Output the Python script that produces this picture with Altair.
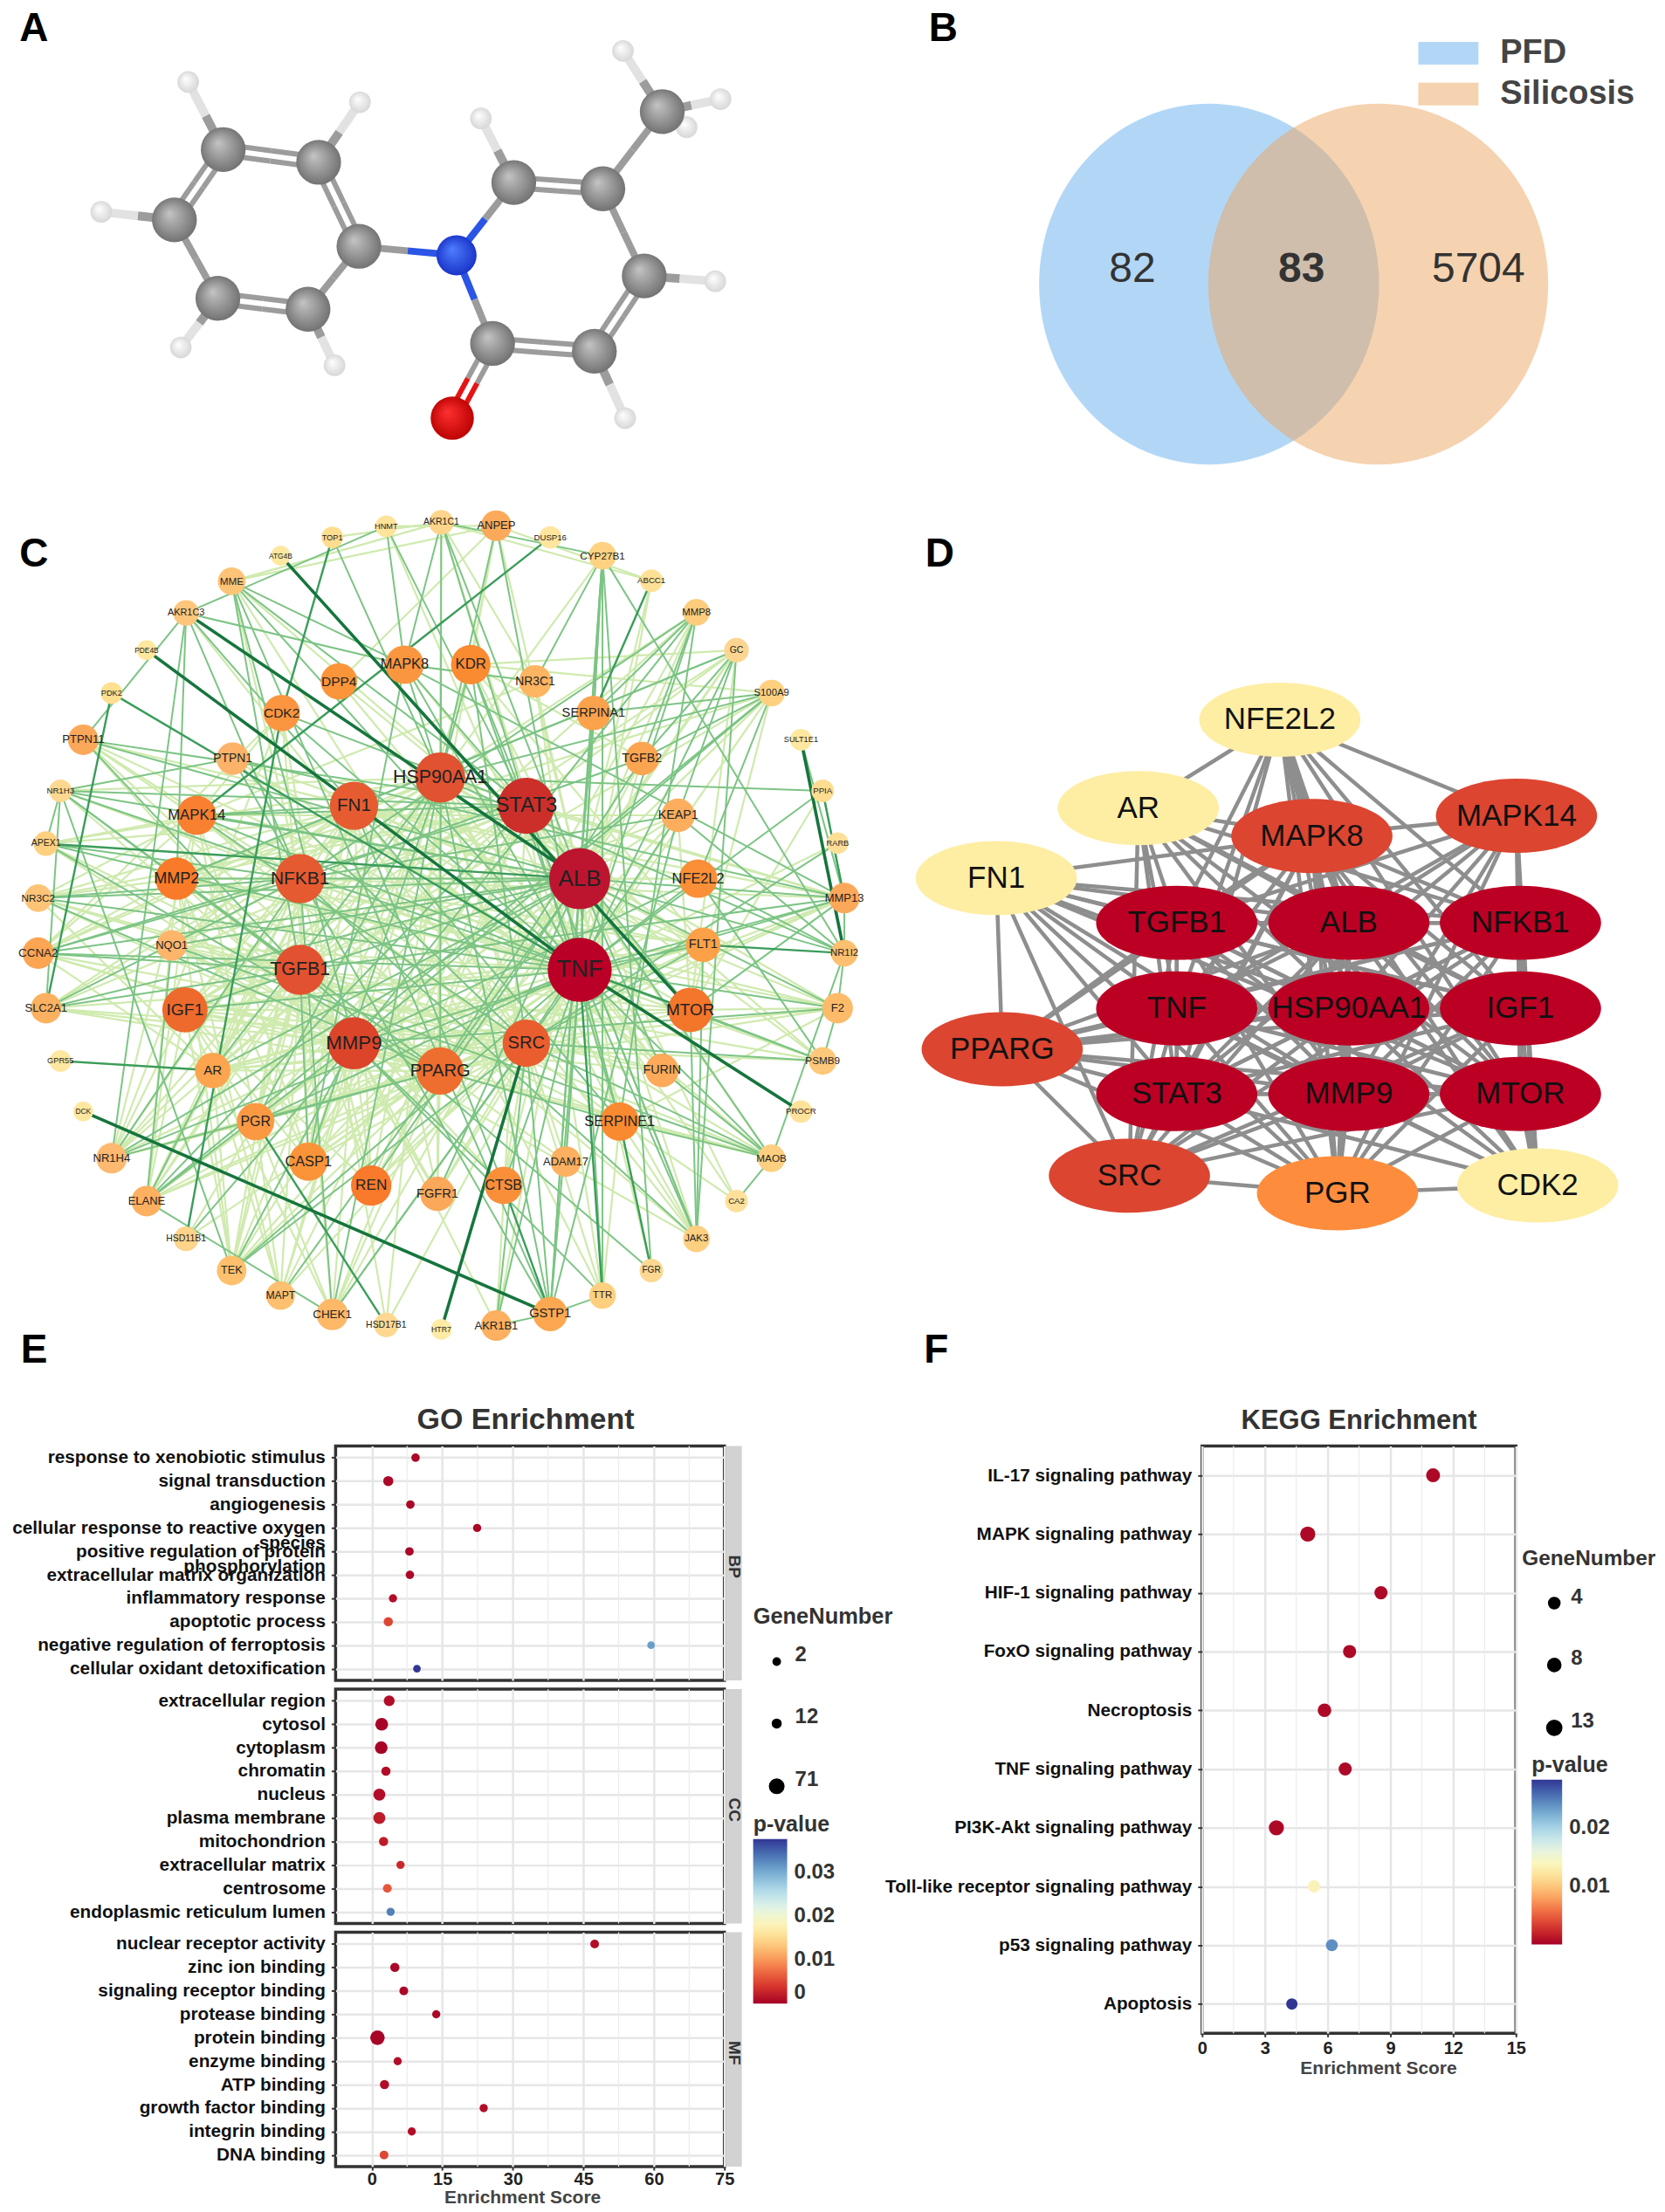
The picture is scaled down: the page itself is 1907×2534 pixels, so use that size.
import itertools, math
import altair as alt
import pandas as pd

FONT = "Liberation Sans"

# ---------- Panel A: molecule (zoom-read coordinates: x/0.822, y/2.8)
atoms = {
 "C1":("C",208,472),"C2":("C",298,513),"C3":("C",162,698),"C4":("C",336,783),"C5":("C",203,950),
 "C6":("C",288,985),"N":("N",428,812),"C7":("C",482,578),"C8":("C",566,598),"C9":("C",605,878),
 "C10":("C",558,1120),"C11":("C",462,1095),"O":("O",424,1335),"C12":("C",622,350),
 "H1":("H",175,255),"H2":("H",337,320),"H3":("H",93,672),"H4":("H",168,1108),"H5":("H",313,1165),
 "H6":("H",451,372),"H7":("H",585,155),"H8":("H",677,310),"H9":("H",645,400),"H10":("H",672,895),"H11":("H",587,1335),
}
bonds = [("C1","C2",2),("C2","C4",2),("C4","C6",1),("C6","C5",2),("C5","C3",1),("C3","C1",2),
 ("C4","N",1),("N","C7",1),("N","C11",1),("C7","C8",2),("C8","C9",1),("C9","C10",2),("C10","C11",2),
 ("C11","O",2),("C8","C12",1),("C1","H1",1),("C2","H2",1),("C3","H3",1),("C5","H4",1),("C6","H5",1),
 ("C7","H6",1),("C12","H7",1),("C12","H8",1),("C12","H9",1),("C9","H10",1),("C10","H11",1)]
atom_sizes = {"C":58,"N":52,"O":56,"H":28}
atom_stops = {"C":("#c4c4c4","#6c6c6c"),"N":("#4f7dff","#1630c4"),"O":("#ff3030","#b80000"),"H":("#ffffff","#d4d4d4")}
bond_colors = {"C":"#9c9c9c","N":"#2b55e4","O":"#e51515","H":"#e2e2e2"}

apos = {k:(v[1]/0.822, v[2]/2.8) for k,v in atoms.items()}
atom_df = pd.DataFrame([{"x":apos[k][0],"y":apos[k][1],"kind":v[0],"area":atom_sizes[v[0]]**2*math.pi/4} for k,v in atoms.items()])
rows=[]
for a,b,order in bonds:
    (x1,y1),(x2,y2)=apos[a],apos[b]
    L=math.hypot(x2-x1,y2-y1); nx,ny=-(y2-y1)/L,(x2-x1)/L
    offs=[-6,6] if order==2 else [0]
    w=6 if order==2 else (10 if "H" in (atoms[a][0],atoms[b][0]) else 8)
    for o in offs:
        ax,ay,bx,by=x1+nx*o,y1+ny*o,x2+nx*o,y2+ny*o
        mx,my=(ax+bx)/2,(ay+by)/2
        rows.append({"x":ax,"y":ay,"x2":mx,"y2":my,"c":bond_colors[atoms[a][0]],"w":w})
        rows.append({"x":mx,"y":my,"x2":bx,"y2":by,"c":bond_colors[atoms[b][0]],"w":w})
bond_df=pd.DataFrame(rows)

# ---------- Panel B: Venn
venn_sets = ["PFD","Silicosis"]
venn_x = [1384, 1578]
venn_y = [323, 323]
venn_colors = ["#b2d7f6","#eba561"]
venn_op = [1.0,0.5]
venn_counts = ["82","83","5704"]
venn_count_x = [1296,1490,1693]
venn_count_w = ["normal","bold","normal"]
swatch_y = [(45,71),(92,118)]
swatch_c = ["#b2d7f6","#f5d2b0"]

# ---------- Panel C: network (zoom-read coordinates: x/1.568, 560+y/1.568)
c_nodes = [
("ANPEP",888,63,62,"#fba95a"),("AKR1C1",789,57,50,"#fed58a"),("HNMT",690,64,44,"#fee39b"),("TOP1",593,84,44,"#fedd90"),
("ATG4B",500,117,40,"#fee79f"),("MME",412,163,56,"#fdc478"),("AKR1C3",330,220,52,"#fdc67c"),("PDE4B",259,287,40,"#fee79f"),
("PDK2",196,364,44,"#fee090"),("PTPN11",145,448,62,"#fca85a"),("NR1H3",104,540,46,"#fed890"),("APEX1",78,635,50,"#fed07f"),
("NR3C2",64,733,56,"#fdc478"),("CCNA2",64,832,64,"#fca552"),("SLC2A1",78,931,62,"#fcb160"),("GPR55",104,1026,44,"#fee79f"),
("DCK",145,1117,40,"#fee89f"),("NR1H4",196,1201,62,"#fdb970"),("ELANE",259,1278,62,"#fcb060"),("HSD11B1",330,1346,50,"#fed48a"),
("TEK",412,1403,60,"#fdc06c"),("MAPT",500,1448,58,"#fdc070"),("CHEK1",593,1482,64,"#fdb868"),("HSD17B1",690,1501,50,"#fed890"),
("HTR7",789,1509,42,"#feeba5"),("AKR1B1",888,1502,62,"#fcb060"),("GSTP1",985,1481,70,"#fca850"),("TTR",1079,1448,54,"#fdd080"),
("FGR",1167,1403,48,"#fed790"),("JAK3",1248,1346,54,"#fdcf80"),("CA2",1320,1278,46,"#fee09a"),("MAOB",1383,1201,56,"#fdcf80"),
("PROCR",1436,1117,46,"#fee29a"),("PSMB9",1475,1026,56,"#fdc87a"),("F2",1502,931,62,"#fdbb6a"),("NR1I2",1514,832,54,"#fdc070"),
("MMP13",1514,733,62,"#fca85a"),("RARB",1502,634,44,"#fedf97"),("PPIA",1475,540,46,"#fedd90"),("SULT1E1",1436,448,44,"#fee89f"),
("S100A9",1383,364,54,"#fed080"),("GC",1320,287,50,"#fed590"),("MMP8",1248,219,54,"#fdcc7c"),("ABCC1",1167,162,46,"#fee096"),
("CYP27B1",1079,117,56,"#fed282"),("DUSP16",985,84,46,"#fee69e"),
("SERPINA1",1063,400,70,"#fba24d"),("NR3C1",958,343,66,"#fdb562"),("KDR",842,313,80,"#fb8b30"),("MAPK8",723,313,78,"#fb9640"),
("DPP4",605,343,74,"#fb953a"),("CDK2",502,400,74,"#fb953f"),("PTPN1",414,482,66,"#fcb369"),("MAPK14",349,584,80,"#f88030"),
("MMP2",313,698,86,"#f97a28"),("NQO1",304,818,62,"#fdb56c"),("IGF1",328,934,92,"#ed6a2c"),("AR",378,1043,72,"#fca54e"),
("PGR",455,1135,76,"#fb9943"),("CASP1",550,1207,78,"#fb9438"),("REN",663,1250,82,"#f97a2b"),("FGFR1",782,1265,70,"#fca85a"),
("CTSB",901,1250,76,"#fa8f3a"),("ADAM17",1013,1207,62,"#fcb060"),("SERPINE1",1110,1135,78,"#fa8a30"),("FURIN",1186,1043,68,"#fdaa5a"),
("MTOR",1237,934,90,"#f4762a"),("FLT1",1260,817,70,"#fca148"),("NFE2L2",1251,698,78,"#fa8f38"),("KEAP1",1215,584,68,"#fcae5e"),
("TGFB2",1150,482,68,"#fca550"),
("HSP90AA1",787,516,102,"#e05230"),("STAT3",942,567,114,"#cc2f2a"),("ALB",1038,698,124,"#bd1530"),("TNF",1038,862,130,"#ba0026"),
("SRC",942,994,96,"#ea5d2e"),("PPARG",787,1044,96,"#ee6e2f"),("MMP9",632,994,106,"#dc452a"),("TGFB1",535,862,102,"#e35230"),
("NFKB1",535,698,100,"#e55a30"),("FN1",632,567,98,"#e65c30"),
]
c_dark = ["PDE4B-TNF","AKR1C3-ALB","ATG4B-MTOR","DCK-GSTP1","PROCR-TNF","HTR7-SRC","SULT1E1-NR1I2"]
c_medium = ["PDK2-TNF","DUSP16-MAPK14","TOP1-CDK2","ABCC1-SERPINA1","GPR55-AR","PDK2-SLC2A1","NR1I2-FLT1","PPIA-MMP13",
            "APEX1-ALB","HSD11B1-CDK2","HSD17B1-PGR","GSTP1-CTSB","FGR-SERPINE1","TTR-TNF","TNF-MTOR"]
c_mid = {
"TNF":"MME NR1H3 APEX1 NR3C2 CCNA2 NR1H4 TEK CHEK1 AKR1B1 GSTP1 JAK3 MAOB PSMB9 F2 MMP13 PPIA GC MMP8 CYP27B1 ANPEP SERPINA1 KDR MAPK8 CDK2 MAPK14 IGF1 PGR CTSB ADAM17 SERPINE1 FLT1 NFE2L2",
"ALB":"PTPN11 NR1H3 NR3C2 CCNA2 SLC2A1 NR1H4 MAPT GSTP1 TTR MAOB F2 NR1I2 MMP13 CYP27B1 AKR1C1 SERPINA1 MAPK14 MMP2 NQO1 IGF1 AR REN FGFR1 FURIN",
"STAT3":"MME PTPN11 NR1H3 CCNA2 ELANE JAK3 AKR1C1 HNMT MAPK8 CDK2 MAPK14 SERPINE1 MTOR",
"HSP90AA1":"ANPEP TOP1 NR1I2 PPIA S100A9 MAPK8 KDR CHEK1 AR PGR CASP1 GSTP1",
"SRC":"TEK CHEK1 GSTP1 AKR1B1 MAOB PSMB9 RARB KEAP1 FLT1 KDR MAPK14 PTPN1",
"PPARG":"NR1H3 NR1H4 NR3C2 APEX1 TGFB2 AKR1C1 SERPINE1 PGR",
"MMP9":"ELANE MME MMP13 MMP8 S100A9 F2 NFE2L2 HSD11B1 TEK TTR CTSB",
"TGFB1":"NR1H3 PTPN11 MME CCNA2 SLC2A1 FGR MMP13 CASP1",
"NFKB1":"APEX1 NR3C2 NR1H4 SLC2A1 CCNA2 CHEK1 AKR1C3 MMP8 JAK3 TGFB2 KEAP1",
"FN1":"MAPK14 MMP2 SERPINE1 CTSB GC AKR1C3",
"GSTP1":"AKR1B1 KEAP1 CYP27B1 TTR PTPN1 MME",
"MAPK8":"AKR1C1 MME HNMT CASP1 NR3C1 MMP13",
"MMP13":"NR1I2 PPIA MTOR SULT1E1 PTPN1",
"NR1I2":"KEAP1 F2 MAOB NFE2L2 CYP27B1",
"MAOB":"SERPINE1 FURIN CA2 NQO1",
"JAK3":"MTOR FLT1 KDR GC",
"CYP27B1":"SERPINA1 AKR1C1 NR3C1 FGR TTR",
"AKR1C3":"NR1H4 MMP2 HNMT MAPK8 PTPN11",
"NR1H3":"PTPN1 APEX1 SLC2A1 TEK",
"MMP8":"TGFB2 SERPINE1 SERPINA1",
"ELANE":"NQO1 AR CHEK1 S100A9",
"S100A9":"NFE2L2 TGFB2 SERPINA1",
"GC":"TGFB2 KEAP1 MMP2",
"PSMB9":"NFE2L2 MTOR F2",
}
c_light = {
"TNF":"PTPN11 SLC2A1 ELANE HSD11B1 MAPT HSD17B1 FGR CA2 RARB S100A9 ABCC1 AKR1C1 HNMT NR3C1 DPP4 PTPN1 MMP2 NQO1 AR CASP1 REN FGFR1 FURIN KEAP1 TGFB2",
"ALB":"MME TEK CHEK1 ELANE AKR1B1 JAK3 CA2 PSMB9 S100A9 GC MMP8 ABCC1 ANPEP KDR DPP4 PTPN1 PGR CASP1 CTSB ADAM17 SERPINE1 MTOR FLT1 KEAP1 TGFB2 NR3C1",
"STAT3":"APEX1 NR3C2 SLC2A1 NR1H4 TEK MAPT CHEK1 AKR1B1 TTR MAOB PSMB9 MMP13 IGF1 MMP2 PGR CASP1 REN NQO1 AR FURIN",
"HSP90AA1":"NR1H3 APEX1 CCNA2 SLC2A1 NR1H4 ELANE TEK MAPT HSD17B1 TTR JAK3 F2 MMP13 CYP27B1 MMP8 IGF1 MMP2 NQO1 FGFR1 ADAM17 SERPINE1 FURIN FLT1",
"SRC":"PTPN11 NR3C2 CCNA2 SLC2A1 NR1H4 ELANE MME AKR1C3 MMP2 IGF1 NQO1 AR PGR CASP1 REN FGFR1 CTSB FURIN MMP13",
"PPARG":"PTPN11 CCNA2 SLC2A1 ELANE TEK CHEK1 MAOB F2 MMP13 GC MMP8 MMP2 IGF1 NQO1 AR CASP1 REN FGFR1 MTOR FLT1 KEAP1",
"MMP9":"PTPN11 NR1H3 APEX1 NR3C2 CCNA2 SLC2A1 NR1H4 MAPT CHEK1 AKR1B1 JAK3 MAOB PSMB9 NQO1 MMP2 IGF1 AR PGR CASP1 REN FGFR1 FURIN MTOR FLT1",
"TGFB1":"APEX1 NR3C2 NR1H4 ELANE TEK MAPT MAOB PSMB9 S100A9 GC MMP8 MMP2 IGF1 NQO1 AR PGR REN FGFR1 CTSB ADAM17 SERPINE1 FURIN MTOR",
"NFKB1":"NR1H3 PTPN11 ELANE TEK MAOB PSMB9 MMP13 F2 MME MMP2 IGF1 NQO1 AR PGR CASP1 REN SERPINE1 MTOR FLT1 NFE2L2",
"FN1":"PTPN11 NR3C2 CCNA2 SLC2A1 NR1H4 ELANE TEK TTR JAK3 MAOB MMP13 F2 IGF1 NQO1 AR PGR CASP1 REN FGFR1 FURIN MTOR FLT1 NFE2L2",
"IGF1":"AR PGR CASP1 REN ELANE TEK NR1H4 GC KEAP1 MTOR FLT1",
"MAPK14":"NR3C2 APEX1 CCNA2 NR1H4 ELANE KEAP1 NR3C1 PGR CASP1 JAK3",
"MMP2":"NR3C2 CCNA2 ELANE MAPT TEK S100A9 CASP1 FLT1 F2",
"AR":"NR3C2 CCNA2 ELANE CHEK1 TEK MAPT GPR55 F2 FLT1",
"CDK2":"CCNA2 CHEK1 HSD17B1 MAPK14 NR1H4",
"PGR":"NR1H4 ELANE HSD11B1 MAPT CHEK1 MMP13",
"ANPEP":"DPP4 KDR MME ABCC1 REN HNMT",
"AKR1C1":"TOP1 MME FGFR1 NR3C1 ABCC1",
"MTOR":"PPIA S100A9 GC F2 MAPK8 KEAP1",
"KDR":"FLT1 GC S100A9 TGFB2 CASP1",
"SERPINE1":"F2 TTR FGR JAK3 CA2 MAOB",
}
node_xy = {n[0]:(n[1]/1.568, 560+n[2]/1.568) for n in c_nodes}
def edge_rows(pairs,c,w):
    out=[]
    for a,b in pairs:
        out.append({"x":node_xy[a][0],"y":node_xy[a][1],"x2":node_xy[b][0],"y2":node_xy[b][1],"c":c,"w":w})
    return out
def adj(d):
    return [(k,t) for k,v in d.items() for t in v.split()]
c_edge_df = pd.DataFrame(
    edge_rows(adj(c_light),"#cfeaae",2.2)+edge_rows(adj(c_mid),"#7cc484",2.0)
    +edge_rows([tuple(p.split("-")) for p in c_medium],"#3a9c5a",2.4)
    +edge_rows([tuple(p.split("-")) for p in c_dark],"#16753d",3.6))
c_node_df = pd.DataFrame([{"x":n[1]/1.568,"y":560+n[2]/1.568,"label":n[0],"c":n[4],
                           "area":(n[3]/1.568)**2*math.pi/4,"fs":max(7.5,n[3]*0.21)} for n in c_nodes])

# ---------- Panel D: hub network (zoom-read coordinates: 1020+x/1.768, 750+y/2.24)
d_nodes = [("NFE2L2",787,163,"#feeea3"),("AR",500,390,"#feeea3"),("MAPK8",852,462,"#dc4530"),("MAPK14",1267,410,"#dc4530"),
("FN1",212,570,"#feeea3"),("TGFB1",578,685,"#bc0024"),("ALB",927,685,"#bc0024"),("NFKB1",1275,685,"#bc0024"),
("TNF",578,905,"#bc0024"),("HSP90AA1",927,905,"#bc0024"),("IGF1",1275,905,"#bc0024"),("PPARG",224,1010,"#dc4530"),
("STAT3",578,1125,"#bc0024"),("MMP9",927,1125,"#bc0024"),("MTOR",1275,1125,"#bc0024"),("SRC",482,1335,"#dc4530"),
("PGR",904,1380,"#fd8d3c"),("CDK2",1310,1360,"#feeea3")]
d_absent = {("AR","FN1"),("NFE2L2","FN1"),("FN1","CDK2"),("AR","CDK2"),("AR","PPARG"),("MAPK14","PPARG"),("MAPK14","SRC"),
            ("SRC","CDK2"),("NFE2L2","CDK2"),("NFE2L2","PPARG"),("NFE2L2","SRC"),("AR","PGR"),("PPARG","CDK2"),("AR","MAPK14"),
            ("FN1","MAPK14")}
d_thick = {("NFE2L2","MAPK8"):9,("IGF1","MTOR"):6.5,("MTOR","CDK2"):7,("NFE2L2","ALB"):6,("PPARG","TNF"):6,("PPARG","HSP90AA1"):6,("TNF","MMP9"):6}
d_xy = {n[0]:(1020+n[1]/1.768,750+n[2]/2.24) for n in d_nodes}
rows=[]
for (a,b) in itertools.combinations([n[0] for n in d_nodes],2):
    if (a,b) in d_absent or (b,a) in d_absent: continue
    rows.append({"x":d_xy[a][0],"y":d_xy[a][1],"x2":d_xy[b][0],"y2":d_xy[b][1],"c":"#8e8e8e","w":d_thick.get((a,b),d_thick.get((b,a),4.5))})
d_edge_df=pd.DataFrame(rows)
d_node_df=pd.DataFrame([{"x":d_xy[n[0]][0],"y":d_xy[n[0]][1],"label":n[0],"c":n[3]} for n in d_nodes])
ELLIPSE_D="M-1,0A1,0.46,0,1,1,1,0A1,0.46,0,1,1,-1,0Z"
ELLIPSE_B="M-0.942,0A0.942,1,0,1,1,0.942,0A0.942,1,0,1,1,-0.942,0Z"

# ---------- Panel letters
letters_top=["A","B"]
letter_top_x=[36,1079]
letter_top_y=[8,8]
letters=["C","D","E","F"]
letter_x=[36,1075,36,1071]
letter_y=[633,633,1546,1546]

# ---------- Canvas helpers
sx=alt.Scale(domain=[8,1899],nice=False,zero=False)
sy=alt.Scale(domain=[1656,8],nice=False,zero=False)
X=lambda f="x":alt.X(f"{f}:Q",scale=sx,axis=None)
Y=lambda f="y":alt.Y(f"{f}:Q",scale=sy,axis=None)
def rules(df):
    return alt.Chart(df).mark_rule().encode(x=X(),y=Y(),x2="x2:Q",y2="y2:Q",
        color=alt.Color("c:N",scale=None),size=alt.Size("w:Q",scale=None))
def ball(kind):
    a,b=atom_stops[kind]
    g=alt.RadialGradient(gradient="radial",x1=0.38,y1=0.35,x2=0.5,y2=0.5,r1=0,r2=0.55,
        stops=[alt.GradientStop(offset=0,color=a),alt.GradientStop(offset=1,color=b)])
    return alt.Chart(atom_df[atom_df.kind==kind]).mark_point(filled=True,fill=g,opacity=1,shape="circle",strokeWidth=0).encode(
        x=X(),y=Y(),size=alt.Size("area:Q",scale=None))

layers=[rules(bond_df)]+[ball(k) for k in ["H","C","N","O"]]
# B
venn_df=pd.DataFrame({"x":venn_x,"y":venn_y,"c":venn_colors,"o":venn_op})
for i in range(2):
    layers.append(alt.Chart(venn_df.iloc[[i]]).mark_point(filled=True,shape=ELLIPSE_B,size=414**2,strokeWidth=0,opacity=float(venn_op[i]),fill=venn_colors[i]).encode(x=X(),y=Y()))
sw=pd.DataFrame({"x":[1624,1624],"x2":[1693,1693],"y":[a for a,b in swatch_y],"y2":[b for a,b in swatch_y],"c":swatch_c,"t":venn_sets,"ty":[(a+b)/2 for a,b in swatch_y],"tx":[1718,1718]})
layers.append(alt.Chart(sw).mark_rect().encode(x=X(),y=Y(),x2="x2:Q",y2="y2:Q",color=alt.Color("c:N",scale=None)))
layers.append(alt.Chart(sw).mark_text(font=FONT,fontSize=38,fontWeight="bold",align="left",color="#444444").encode(x=X("tx"),y=Y("ty"),text="t:N"))
cnt=pd.DataFrame({"x":venn_count_x,"y":[306]*3,"t":venn_counts,"w":venn_count_w})
for w in ["normal","bold"]:
    layers.append(alt.Chart(cnt[cnt.w==w]).mark_text(font=FONT,fontSize=48,fontWeight=w,color="#333333").encode(x=X(),y=Y(),text="t:N"))
# C
layers.append(rules(c_edge_df))
layers.append(alt.Chart(c_node_df).mark_point(filled=True,opacity=1,shape="circle",strokeWidth=0).encode(x=X(),y=Y(),size=alt.Size("area:Q",scale=None),color=alt.Color("c:N",scale=None)))
layers.append(alt.Chart(c_node_df).mark_text(font=FONT,color="#222222").encode(x=X(),y=Y(),text="label:N",size=alt.Size("fs:Q",scale=None)))
# D
layers.append(rules(d_edge_df))
layers.append(alt.Chart(d_node_df).mark_point(filled=True,opacity=1,shape=ELLIPSE_D,size=185**2,strokeWidth=0).encode(x=X(),y=Y(),color=alt.Color("c:N",scale=None)))
layers.append(alt.Chart(d_node_df).mark_text(font=FONT,fontSize=35,color="#111111").encode(x=X(),y=Y(),text="label:N"))
# letters
let=pd.DataFrame({"x":letter_x,"y":letter_y,"t":letters})
layers.append(alt.Chart(let).mark_text(font=FONT,fontSize=46,fontWeight="bold",color="#000000").encode(x=X(),y=Y(),text="t:N"))
let_top=pd.DataFrame({"x":letter_top_x,"y":letter_top_y,"t":letters_top})
layers.append(alt.Chart(let_top).mark_text(font=FONT,fontSize=46,fontWeight="bold",color="#000000",baseline="top").encode(x=X(),y=Y(),text="t:N"))
canvas=alt.layer(*layers).properties(width=1891,height=1648)

# ---------- Panel E data
bp_terms=["response to xenobiotic stimulus","signal transduction","angiogenesis","cellular response to reactive oxygen\nspecies",
 "positive regulation of protein\nphosphorylation","extracellular matrix organization","inflammatory response","apoptotic process",
 "negative regulation of ferroptosis","cellular oxidant detoxification"]
bp_score=[9.3,3.5,8.2,22.4,8.0,8.1,4.5,3.5,59.4,9.6]
bp_genes=[10,23,10,8,10,10,8,16,4,4]
bp_p=[0.0005,0.0005,0.0005,0.0005,0.0005,0.0005,0.001,0.005,0.031,0.0376]
cc_terms=["extracellular region","cytosol","cytoplasm","chromatin","nucleus","plasma membrane","mitochondrion","extracellular matrix","centrosome","endoplasmic reticulum lumen"]
cc_score=[3.7,2.1,2.0,3.0,1.6,1.6,2.5,6.1,3.3,4.0]
cc_genes=[30,50,50,16,43,43,16,8,13,8]
cc_p=[0.001,0.0002,0.0002,0.001,0.001,0.002,0.002,0.003,0.006,0.033]
mf_terms=["nuclear receptor activity","zinc ion binding","signaling receptor binding","protease binding","protein binding","enzyme binding","ATP binding","growth factor binding","integrin binding","DNA binding"]
mf_score=[47.4,4.9,6.8,13.7,1.2,5.5,2.7,23.8,8.5,2.6]
mf_genes=[12,16,12,8,71,8,16,8,8,12]
mf_p=[0.001,0.0005,0.0005,0.0005,0.0002,0.001,0.001,0.001,0.001,0.005]
go_ticks=[0,15,30,45,60,75]
go_minor=[7.5,22.5,37.5,52.5,67.5]
go_sizes=[2,12,71]

kegg_terms=["IL-17 signaling pathway","MAPK signaling pathway","HIF-1 signaling pathway","FoxO signaling pathway","Necroptosis","TNF signaling pathway","PI3K-Akt signaling pathway","Toll-like receptor signaling pathway","p53 signaling pathway","Apoptosis"]
kegg_score=[11.04,5.05,8.55,7.05,5.85,6.84,3.55,5.35,6.2,4.29]
kegg_genes=[10,13,8,8,9,8,13,6,5,4]
kegg_p=[0.0005,0.0005,0.0005,0.0005,0.0005,0.0005,0.0005,0.0135,0.024,0.0282]
kegg_ticks=[0,3,6,9,12,15]
kegg_minor=[1.5,4.5,7.5,10.5,13.5]
kegg_sizes=[4,8,13]

FRAME=alt.ViewBackground(stroke="#333333",strokeWidth=3.5)
def gene_legend(values,x,y,offset,labeloff,padrow,tsize):
    return alt.Legend(title="GeneNumber",values=values,orient="none",legendX=x,legendY=y,symbolType="circle",
        symbolFillColor="black",symbolStrokeColor="black",symbolOpacity=1,symbolOffset=offset,labelOffset=labeloff,rowPadding=padrow,
        titleFont=FONT,titleFontSize=tsize,titleFontWeight="bold",titleColor="#333333",titlePadding=26,labelBaseline="alphabetic",
        labelFont=FONT,labelFontSize=24,labelFontWeight="bold",labelColor="#333333")
def p_legend(values,x,y,thick):
    return alt.Legend(title="p-value",type="gradient",values=values,format=".2~f",orient="none",legendX=x,legendY=y,direction="vertical",
        gradientLength=189,gradientThickness=thick,gradientStrokeWidth=0,labelOffset=8,labelOverlap=False,
        titleFont=FONT,titleFontSize=25,titleFontWeight="bold",titleColor="#333333",titlePadding=4,
        labelFont=FONT,labelFontSize=24,labelFontWeight="bold",labelColor="#333333",tickCount=len(values))

def dotplot(terms,score,genes,p,w,h,xdom,xticks,minor,sizedom,sizerange,pdom,xtitle=None,xtitlex=None,xtp=2,xlp=3,
            size_leg=None,color_leg=None,strip=None,title=None,title_dx=0,lsize=20.8,lpad=7):
    df=pd.DataFrame({"term":terms,"score":score,"genes":genes,"p":p})
    xs=alt.Scale(domain=xdom,nice=False,zero=False)
    ys=alt.Scale(type="point",domain=terms,padding=0.5)
    xaxis=dict(values=xticks,grid=True,gridColor="#e6e6e6",gridWidth=2.5,domain=False,title=None)
    if xtitle:
        xaxis.update(title=xtitle,titleFont=FONT,titleFontSize=21,titleFontWeight="bold",titleColor="#444444",titleX=xtitlex,titlePadding=xtp,
            labelFont=FONT,labelFontSize=20,labelFontWeight="bold",labelColor="#222222",tickColor="#333333",tickWidth=2,tickSize=4,labelPadding=xlp,labelFlush=False)
    else:
        xaxis.update(labels=False,ticks=False)
    base=alt.Chart(df)
    mdf=pd.DataFrame({"v":minor})
    m=alt.Chart(mdf).mark_rule(color="#ececec",strokeWidth=1.2).encode(x=alt.X("v:Q",scale=xs,axis=alt.Axis(**xaxis)))
    pts=base.mark_circle(opacity=1).encode(
        x=alt.X("score:Q",scale=xs,axis=alt.Axis(**xaxis)),
        y=alt.Y("term:N",sort=terms,scale=ys,axis=alt.Axis(title=None,grid=True,gridColor="#e6e6e6",gridWidth=2.5,domain=False,
            labelFont=FONT,labelFontSize=lsize,labelFontWeight="bold",labelColor="#111111",tickColor="#333333",tickWidth=2,tickSize=5,
            labelPadding=lpad,labelExpr="split(datum.label,'\\n')",labelLineHeight=17,labelLimit=600)),
        size=alt.Size("genes:Q",scale=alt.Scale(domain=sizedom,range=sizerange),legend=size_leg),
        color=alt.Color("p:Q",scale=alt.Scale(scheme="redyellowblue",domain=pdom,nice=False,zero=False),legend=color_leg),
    )
    lay=[m,pts]
    one=pd.DataFrame({"a":[0]})
    if strip:
        lay.append(alt.Chart(one).mark_rect(color="#d2d2d2").encode(x=alt.value(w+2),x2=alt.value(w+20),y=alt.value(0),y2=alt.value(h)))
        lay.append(alt.Chart(one).mark_text(text=strip,angle=90,font=FONT,fontSize=19,fontWeight="bold",color="#333333").encode(x=alt.value(w+11),y=alt.value(h/2+4)))
    c=alt.layer(*lay).properties(width=w,height=h,view=FRAME)
    if title:
        c=c.properties(title=alt.TitleParams(text=title[0],font=FONT,fontSize=title[1],fontWeight="bold",color="#333333",offset=12,anchor="middle",dx=title_dx))
    return c

GO=dict(w=446,h=269,xdom=[-7.7,75],xticks=go_ticks,minor=go_minor,sizedom=[2,71],sizerange=[71,275],pdom=[0,0.0376])
bp=dotplot(bp_terms,bp_score,bp_genes,bp_p,strip="BP",title=("GO Enrichment",34),title_dx=-5,**GO)
cc=dotplot(cc_terms,cc_score,cc_genes,cc_p,strip="CC",
           size_leg=gene_legend(go_sizes,479,-95,15,9,44,25.5),color_leg=p_legend([0,0.01,0.02,0.03],479,143,39),**GO)
mf=dotplot(mf_terms,mf_score,mf_genes,mf_p,strip="MF",xtitle="Enrichment Score",xtitlex=214,xtp=0,xlp=0,**GO)
for_e=[bp,cc,mf]
Egroup=alt.vconcat(*for_e,spacing=10,bounds="flush").resolve_scale(color="independent",size="independent")
F=dotplot(kegg_terms,kegg_score,kegg_genes,kegg_p,360,674,[0,15],kegg_ticks,kegg_minor,[4,13],[170,300],[0,0.0282],
          xtitle="Enrichment Score",xtitlex=202,size_leg=gene_legend(kegg_sizes,367,118,25,7,42,24.4),
          color_leg=p_legend([0.01,0.02],378,354,35),title=("KEGG Enrichment",31))

def spacer(w):
    return alt.Chart(pd.DataFrame({"a":[0]})).mark_point(opacity=0).encode(x=alt.value(0)).properties(width=w,height=10)

row3=alt.hconcat(spacer(374),Egroup,spacer(994),F,spacing=0,bounds="flush").resolve_scale(color="independent",size="independent")
chart=alt.vconcat(canvas,row3,spacing=0,bounds="flush").resolve_scale(color="independent",size="independent").properties(padding=0,background="white").configure_view(strokeWidth=0)
chart.save("out.html",embed_options={"renderer":"svg","actions":False})
